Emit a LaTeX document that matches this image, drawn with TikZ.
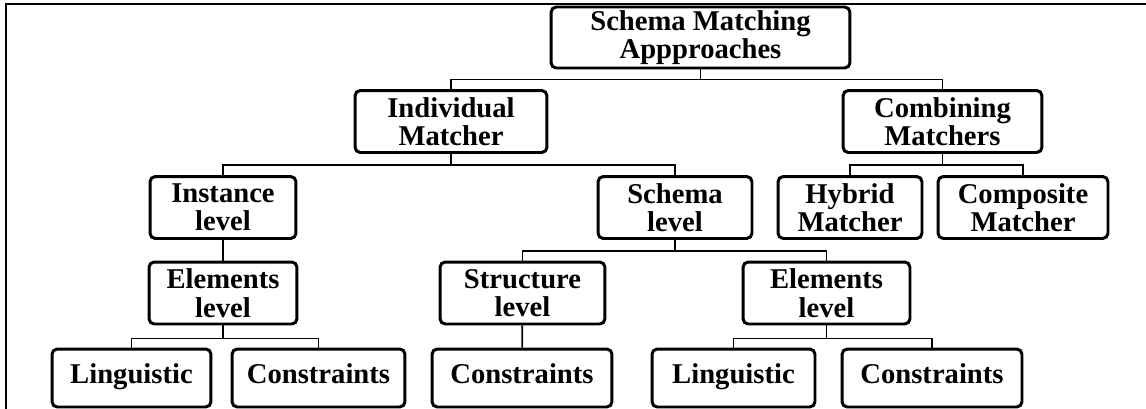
\documentclass[tikz,border=0pt]{standalone}
\usepackage{fontspec}
\setmainfont{Liberation Serif}
\usepackage{tikz}
\usetikzlibrary{positioning}
\tikzset{
  boxlv/.style={ draw, rounded corners=3pt, line width=1.7pt, align=center, inner sep=1pt,
    font=\fontsize{16.3}{16.2}\selectfont\bfseries, minimum height=1.24cm }
}
\tikzset{
  boxleaf/.style={ boxlv, minimum height=1.16cm, execute at begin node=\strut }
}
\tikzset{
  link/.style={ line width=1pt }
}

\begin{document}
\begin{tikzpicture}[y=0.02cm, x=0.02cm]
      \useasboundingbox (0, 0) rectangle (1146, -409);
      \draw[line width=1pt] (6, -409) -- (6, -4) -- (1146, -4);
      \node[boxlv, minimum width=5.98cm, minimum height=1.22cm] (root) at (700.5, -37.5) {Schema Matching\\Appproaches};
      \node[boxlv, minimum width=3.84cm] (indiv) at (451, -121.5) {Individual\\Matcher};
      \node[boxlv, minimum width=3.98cm] (comb) at (942.5, -121.5) {Combining\\Matchers};
      \node[boxlv, minimum width=2.92cm] (inst) at (223, -207.5) {Instance\\level};
      \node[boxlv, minimum width=3.08cm] (schema) at (675, -207.5) {Schema\\level};
      \node[boxlv, minimum width=2.88cm] (hyb) at (850, -207.5) {Hybrid\\Matcher};
      \node[boxlv, minimum width=3.40cm] (comp) at (1023, -207.5) {Composite\\Matcher};
      \node[boxlv, minimum width=2.96cm] (elemL) at (223, -293) {Elements\\level};
      \node[boxlv, minimum width=3.30cm] (struct) at (522.5, -293) {Structure\\level};
      \node[boxlv, minimum width=3.34cm] (elemR) at (826.5, -293) {Elements\\level};
      \node[boxleaf, minimum width=3.18cm] (lingL) at (131.5, -378) {Linguistic};
      \node[boxleaf, minimum width=3.46cm] (consL) at (318.5, -378) {Constraints};
      \node[boxleaf, minimum width=3.60cm] (consM) at (522, -378) {Constraints};
      \node[boxleaf, minimum width=3.26cm] (lingR) at (733.5, -378) {Linguistic};
      \node[boxleaf, minimum width=3.60cm] (consR) at (932, -378) {Constraints};
      % tree links
      \draw[link] (root.south) -- ++(0, -10) -| (indiv.north);
      \draw[link] (root.south) -- ++(0, -10) -| (comb.north);
      \draw[link] (indiv.south) -- ++(0, -11) -| (inst.north);
      \draw[link] (indiv.south) -- ++(0, -11) -| (schema.north);
      \draw[link] (comb.south) -- ++(0, -11) -| (hyb.north);
      \draw[link] (comb.south) -- ++(0, -11) -| (comp.north);
      \draw[link] (inst) -- (elemL);
      \draw[link] (schema.south) -- ++(0, -11) -| (struct.north);
      \draw[link] (schema.south) -- ++(0, -11) -| (elemR.north);
      \draw[link] (elemL.south) -- ++(0, -13) -| (lingL.north);
      \draw[link] (elemL.south) -- ++(0, -13) -| (consL.north);
      \draw[link] (struct) -- (consM);
      \draw[link] (elemR.south) -- ++(0, -13) -| (lingR.north);
      \draw[link] (elemR.south) -- ++(0, -13) -| (consR.north);
    \end{tikzpicture}
\end{document}
